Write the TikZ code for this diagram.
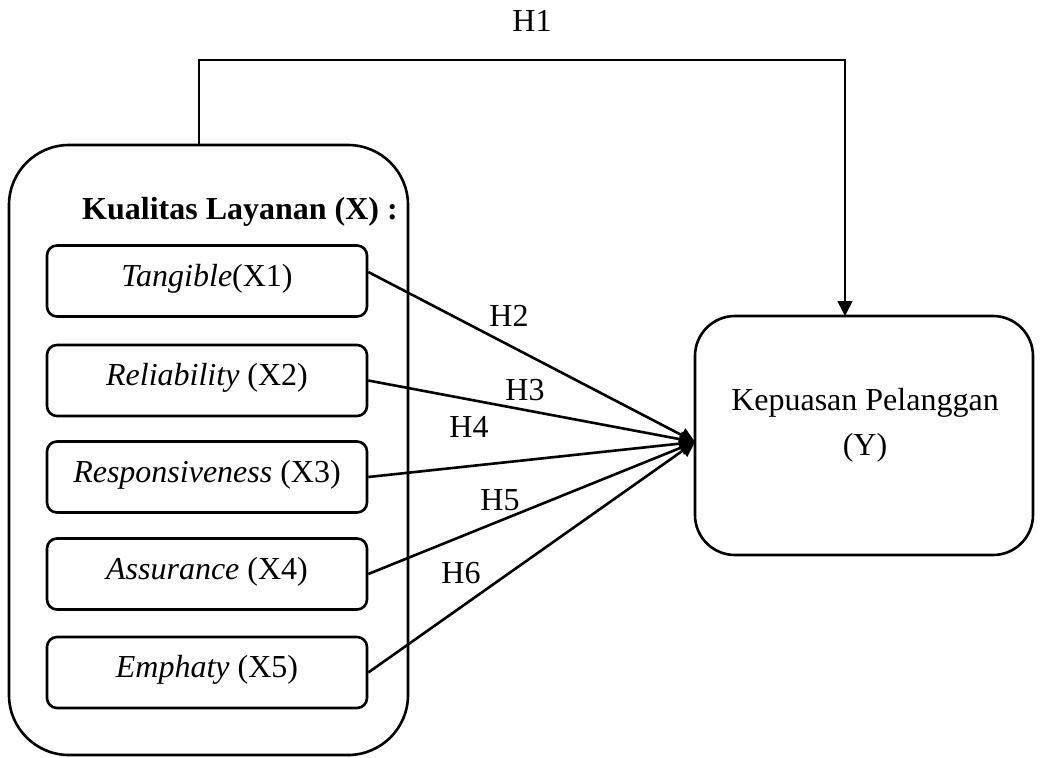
\documentclass[tikz,border=0pt]{standalone}
\usepackage{fontspec}
\setmainfont{Liberation Serif}
\usetikzlibrary{arrows.meta}
\begin{document}
\begin{tikzpicture}[x=0.5pt,y=-0.5pt,
 every node/.style={font=\fontsize{16}{22.5}\selectfont},
 outerbox/.style={draw, line width=1.3pt, rounded corners=30pt, minimum width=199.5pt, minimum height=305pt, inner sep=0pt},
 dimbox/.style={draw, line width=1.3pt, rounded corners=5pt, minimum width=160pt, minimum height=35.5pt, inner sep=0pt, text height=0.75em, text depth=0.25em},
 ybox/.style={draw, line width=1.3pt, rounded corners=20pt, minimum width=169pt, minimum height=119.5pt, inner sep=0pt},
 link/.style={line width=1.3pt, -{Triangle[length=7.5pt,width=7.5pt]}},
 h1link/.style={line width=0.8pt, -{Triangle[length=7.5pt,width=7.5pt]}},
 lbl/.style={inner sep=0pt}]
\useasboundingbox (0,0) rectangle (1041,757);
\node[outerbox] (K) at (208.5,450) {};
\node[font=\bfseries\fontsize{16}{20}\selectfont] (title) at (240,212) {Kualitas Layanan (X) :};
\node[dimbox] (x1) at (207,281) {\textit{Tangible}(X1)};
\node[dimbox] (x2) at (207,380.5) {\textit{Reliability} (X2)};
\node[dimbox] (x3) at (207,477) {\textit{Responsiveness} (X3)};
\node[dimbox] (x4) at (207,574) {\textit{Assurance} (X4)};
\node[dimbox] (x5) at (207,672.5) {\textit{Emphaty} (X5)};
\node[ybox] (Y) at (864,435.5) {};
\node[align=center] (ytext) at (865,425) {Kepuasan Pelanggan\\(Y)};
\coordinate (tip) at (695,442);
\coordinate (h1s) at (199,145);
\coordinate (h1e) at (845,316);
\draw[h1link] (h1s) -- ++(0,-85) -| (h1e);
\draw[link] ([yshift=4.5pt]x1.east) -- (tip);
\draw[link] (x2.east) -- (tip);
\draw[link] (x3.east) -- (tip);
\draw[link] (x4.east) -- (tip);
\draw[link] (x5.east) -- (tip);
\node[lbl] (h1) at (532,21) {H1};
\node[lbl] (h2) at (509,316) {H2};
\node[lbl] (h3) at (525,390) {H3};
\node[lbl] (h4) at (469,427) {H4};
\node[lbl] (h5) at (500,500) {H5};
\node[lbl] (h6) at (461,573) {H6};
\end{tikzpicture}
\end{document}
